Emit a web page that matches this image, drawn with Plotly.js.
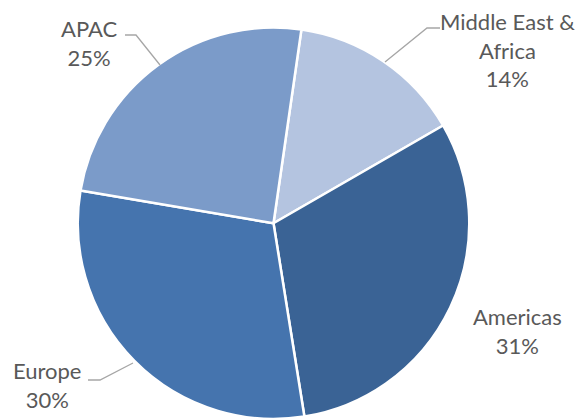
<!DOCTYPE html>
<html>
<head>
<meta charset="utf-8">
<script src="https://cdn.plot.ly/plotly-3.0.1.min.js"></script>
<style>html,body{margin:0;padding:0;background:#fff;}#chart{width:584px;height:419px;}</style>
</head>
<body>
<div id="chart"></div>
<script>
// Data
const regions = ["Middle East &<br>Africa", "Americas", "Europe", "APAC"];
const shares = [14.4, 30.8, 30.2, 24.6];
const sliceColors = ["#b4c4e0", "#3a6395", "#4574ae", "#7b9bc9"];

// Label layout (pixel positions of label block centers) and leader lines
const W = 584, H = 419;
const labelPos = [[507, 50], [517, 331], [47, 385], [89, 43]];
const leaderPaths = [
  [[440, 28], [427, 28], [385, 62]],
  null,
  [[88, 380], [100, 380], [133, 363]],
  [[125, 35], [136, 35], [160, 65]]
];
const px = x => x / W, py = y => (H - y) / H;

const trace = {
  type: "pie",
  values: shares,
  labels: regions,
  sort: false,
  direction: "clockwise",
  rotation: 8.2,
  textinfo: "none",
  hoverinfo: "label+percent",
  marker: { colors: sliceColors, line: { color: "#ffffff", width: 2.5 } },
  domain: { x: [77.75 / W, 469.25 / W], y: [0, 391.5 / H] },
  showlegend: false
};

const total = shares.reduce((a, b) => a + b, 0);
const annotations = regions.map((r, i) => ({
  xref: "paper", yref: "paper",
  x: px(labelPos[i][0]), y: py(labelPos[i][1]),
  xanchor: "center", yanchor: "middle",
  text: r + "<br>" + Math.round(shares[i] / total * 100) + "%",
  showarrow: false, align: "center",
  font: { family: "Lato, 'Open Sans', sans-serif", size: 22, color: "#595959" }
}));

const shapes = leaderPaths.filter(p => p).map(p => ({
  type: "path", xref: "paper", yref: "paper",
  path: p.map((pt, k) => (k ? "L" : "M") + px(pt[0]) + "," + py(pt[1])).join(" "),
  line: { color: "#a6a6a6", width: 1.3 }
}));

const layout = {
  width: W, height: H,
  margin: { l: 0, r: 0, t: 0, b: 0 },
  paper_bgcolor: "#ffffff",
  annotations: annotations,
  shapes: shapes
};

Plotly.newPlot("chart", [trace], layout, { displayModeBar: false, staticPlot: true });
</script>
</body>
</html>
